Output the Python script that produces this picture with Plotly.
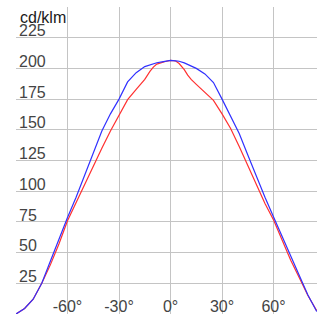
import plotly.graph_objects as go

angles = [-90, -85, -80, -75, -70, -65, -60, -55, -50, -45, -40, -35, -30, -25, -20, -15, -12, -10, -8, -5, -3,
          0, 3, 5, 8, 10, 12, 15, 20, 25, 30, 35, 40, 45, 50, 55, 60, 65, 70, 75, 80, 85, 90]
blue_vals = [0, 4.5, 12, 25, 43, 61, 78.5, 95, 113, 132, 149, 163, 175, 189, 196.5, 201.5, 203, 203.5, 204.6, 205.3, 206,
             206.6, 206.2, 205.8, 204.5, 203.3, 202, 200, 195.5, 188.5, 175, 161, 147, 129.5, 112, 95, 79, 63, 46, 30, 15.5, 2.5, 0]
red_vals = [0, 4.5, 12, 25, 40, 57, 76, 91, 105, 120, 135, 149, 162, 174.5, 183, 191, 197.5, 201, 203.5, 205, 205.6,
            206.6, 206, 204, 199, 194.5, 191, 187, 180.5, 174, 163, 151, 136.5, 120.5, 104.5, 90, 76.5, 59.5, 43.7, 29.5, 15, 3, 0]

y_ticks = [25, 50, 75, 100, 125, 150, 175, 200, 225]
y_tick_labels = ["25", "50", "75", "100", "125", "150", "175", "200", "225"]
x_ticks = [-60, -30, 0, 30, 60]
x_tick_labels = ["-60°", "-30°", "0°", "30°", "60°"]
unit_label = "cd/klm"

fig = go.Figure()
fig.add_trace(go.Scatter(x=angles, y=red_vals, mode="lines",
                         line=dict(color="#ff3030", width=1.2), showlegend=False))
fig.add_trace(go.Scatter(x=angles, y=blue_vals, mode="lines",
                         line=dict(color="#3030ff", width=1.2), showlegend=False))

font = dict(family="Liberation Sans, Arial, sans-serif", size=16, color="#1a1a1a")

fig.update_layout(
    width=317, height=316,
    margin=dict(l=16, r=0, t=7, b=2, pad=0),
    paper_bgcolor="white", plot_bgcolor="white",
    font=font,
    xaxis=dict(range=[-90, 85.3], tickvals=[-90] + x_ticks, ticktext=[""] + x_tick_labels,
               ticklabelposition="inside", ticklabelstandoff=-4, ticks="", showgrid=True,
               gridcolor="#c4c4c4", gridwidth=1, zeroline=False, showline=False,
               automargin=False, fixedrange=True),
    yaxis=dict(range=[0, 250], tickvals=[0] + y_ticks + [250], ticktext=[""] + y_tick_labels + [""],
               ticklabelposition="inside", ticklabelshift=-7, ticks="", showgrid=True,
               gridcolor="#c4c4c4", gridwidth=1, zeroline=False, showline=False,
               automargin=False, fixedrange=True),
    annotations=[dict(text=unit_label, xref="paper", yref="paper", x=0, y=1,
                      xanchor="left", yanchor="top", xshift=2, yshift=0,
                      showarrow=False, font=font)],
)

fig.write_html("out.html", config={"displayModeBar": False},
               post_script="document.body.style.margin='0';document.body.style.overflow='hidden';")
